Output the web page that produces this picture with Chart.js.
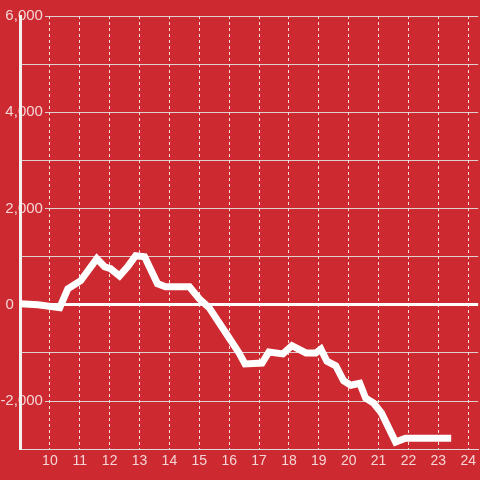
<!DOCTYPE html>
<html>
<head>
<meta charset="utf-8">
<script src="https://cdn.jsdelivr.net/npm/chart.js@4"></script>
<style>
  html, body { margin: 0; padding: 0; background: #cc2a30; }
  #wrap { width: 480px; height: 480px; position: relative; }
</style>
</head>
<body>
<div id="wrap"><canvas id="balanceChart"></canvas></div>
<script>
// hours of the day (x) and running balance (y)
const hours = [9.0, 9.6, 10.33, 10.6, 11.03, 11.57, 11.83, 12.03, 12.33, 12.6, 12.87, 13.17,
  13.6, 13.87, 14.67, 15.0, 15.33, 16.0, 16.33, 16.53, 17.1, 17.33, 17.8, 18.1, 18.57, 18.9,
  19.07, 19.27, 19.57, 19.83, 20.07, 20.37, 20.57, 20.83, 21.1, 21.57, 21.9, 23.43];
const balance = [20, 0, -60, 333, 500, 960, 790, 750, 600, 790, 1020, 1000,
  440, 375, 375, 125, -60, -690, -1000, -1230, -1210, -980, -1020, -850, -1000, -1000,
  -920, -1170, -1270, -1580, -1670, -1630, -1940, -2040, -2250, -2850, -2770, -2770];
const xTicks = [10, 11, 12, 13, 14, 15, 16, 17, 18, 19, 20, 21, 22, 23, 24];
const yLabelled = [-2000, 0, 2000, 4000, 6000];

const bg = '#cc2a30';
const labelColor = 'rgba(255, 255, 255, 0.8)';
const labelFont = 'Liberation Sans, Arial, sans-serif';

const ctx = document.getElementById('balanceChart').getContext('2d');
const balanceChart = new Chart(ctx, {
  type: 'line',
  data: {
    datasets: [
      {
        data: hours.map((h, i) => ({ x: h, y: balance[i] })),
        borderColor: '#ffffff',
        borderWidth: 7,
        pointRadius: 0,
        tension: 0,
        fill: false
      }
    ]
  },
  options: {
    responsive: true,
    maintainAspectRatio: false,
    animation: false,
    layout: {
      padding: { left: 20, top: 16, right: 0, bottom: 6 }
    },
    scales: {
      x: {
        type: 'linear',
        min: 9,
        max: 24.333,
        grid: {
          color: 'rgba(255, 255, 255, 0.85)',
          lineWidth: 1,
          drawTicks: false
        },
        border: {
          display: true,
          color: 'rgba(220, 220, 220, 0.9)',
          width: 1,
          dash: [3, 3]
        },
        ticks: {
          stepSize: 1,
          includeBounds: false,
          autoSkip: false,
          maxRotation: 0,
          padding: 4,
          color: labelColor,
          font: { family: labelFont, size: 14 },
          callback: (v) => xTicks.includes(v) ? String(v) : ''
        }
      },
      y: {
        min: -3000,
        max: 6000,
        grid: {
          color: (c) => c.tick && c.tick.value === 0 ? '#ffffff' : 'rgba(225, 225, 225, 0.9)',
          lineWidth: (c) => c.tick && c.tick.value === 0 ? 3 : 1,
          drawTicks: false
        },
        border: {
          display: true,
          color: '#f2f2f2',
          width: 3
        },
        ticks: {
          stepSize: 1000,
          display: false
        }
      },
      // labels only, sitting over the left edge of the plot
      yLabels: {
        type: 'linear',
        axis: 'y',
        position: { x: 9.7667 },
        min: -3000,
        max: 6000,
        grid: { display: false },
        border: { display: false },
        ticks: {
          stepSize: 1000,
          padding: 0,
          z: -0.5,
          color: labelColor,
          font: { family: labelFont, size: 15 },
          showLabelBackdrop: (c) => c.tick.value !== 0 && yLabelled.includes(c.tick.value),
          backdropColor: bg,
          backdropPadding: 2,
          callback: (v) => {
            if (!yLabelled.includes(v)) return '';
            return v === 0 ? '0       ' : v.toLocaleString('en-US');
          }
        }
      }
    },
    plugins: {
      legend: { display: false },
      tooltip: { enabled: false }
    }
  }
});
</script>
</body>
</html>
